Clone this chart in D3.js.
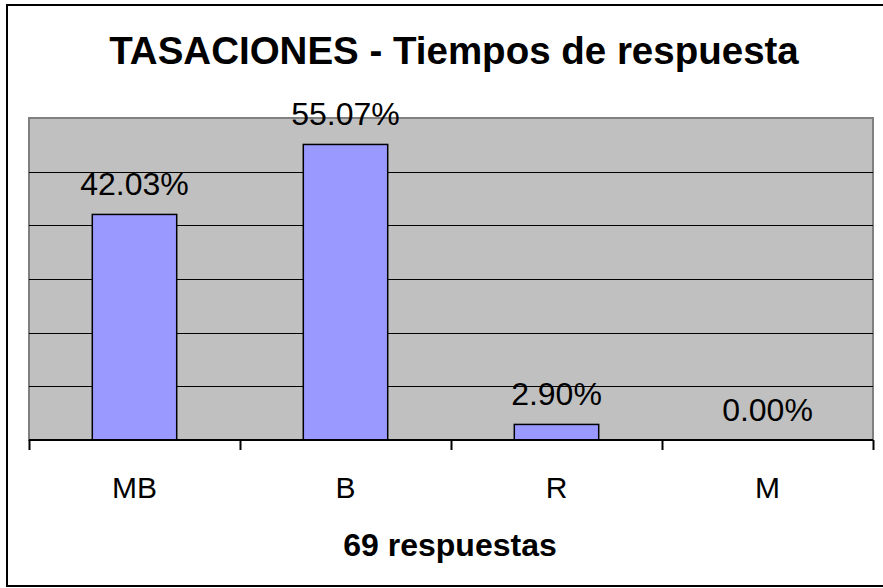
<!DOCTYPE html>
<html>
<meta charset="utf-8">
<head>
<style>
body {
    margin: 0;
    background: #fff;
    font-family: Arial, "Liberation Sans", sans-serif;
}
.grid line {
    stroke: #000;
    stroke-width: 1;
    shape-rendering: crispEdges;
}
</style>
<script src="https://d3js.org/d3.v7.min.js"></script>
</head>
<body>
<script type="text/javascript">
    // chart data
    var categories = ['MB', 'B', 'R', 'M'];
    var percents = [42.03, 55.07, 2.90, 0.00];
    var yTicks = [0, 10, 20, 30, 40, 50, 60];
    var chartTitle = 'TASACIONES - Tiempos de respuesta';
    var xTitle = '69 respuestas';

    var W = 883, H = 588;
    var plot = {left: 29, right: 873, top: 118, bottom: 440};

    var svg = d3.select('body').append('svg')
        .attr('width', W)
        .attr('height', H);

    // outer frame
    svg.append('rect')
        .attr('x', 7).attr('y', 5)
        .attr('width', 900).attr('height', 581)
        .attr('fill', '#fff')
        .attr('stroke', '#000')
        .attr('stroke-width', 2);

    var x = d3.scaleBand()
        .domain(categories)
        .range([plot.left, plot.right])
        .paddingInner(0.6)
        .paddingOuter(0.3);

    var xEdges = d3.scaleLinear()
        .domain([0, categories.length])
        .range([plot.left, plot.right]);

    var y = d3.scaleLinear()
        .domain([0, 60])
        .range([plot.bottom, plot.top]);

    // plot background
    svg.append('rect')
        .attr('x', plot.left).attr('y', plot.top)
        .attr('width', plot.right - plot.left)
        .attr('height', plot.bottom - plot.top)
        .attr('fill', '#c0c0c0')
        .attr('stroke', '#808080')
        .attr('stroke-width', 2);

    // gridlines
    svg.append('g')
        .attr('class', 'grid')
        .selectAll('line')
        .data(yTicks.slice(1, -1))
        .enter().append('line')
            .attr('x1', plot.left).attr('x2', plot.right)
            .attr('y1', function(d) { return Math.round(y(d)) + 0.5; })
            .attr('y2', function(d) { return Math.round(y(d)) + 0.5; });

    // bars
    svg.selectAll('.bar')
        .data(percents)
        .enter().append('rect')
            .attr('class', 'bar')
            .attr('x', function(d, i) { return x(categories[i]); })
            .attr('width', x.bandwidth())
            .attr('y', function(d) { return y(d); })
            .attr('height', function(d) { return y(0) - y(d); })
            .attr('fill', '#9999ff')
            .attr('stroke', '#000')
            .attr('stroke-width', 1.5)
            .style('display', function(d) { return d > 0 ? null : 'none'; });

    // x axis with ticks at category edges
    var xAxis = d3.axisBottom(xEdges)
        .tickValues(d3.range(categories.length + 1))
        .tickSize(10)
        .tickFormat('');

    var gx = svg.append('g')
        .attr('transform', 'translate(0,' + plot.bottom + ')')
        .call(xAxis);
    gx.select('.domain').attr('stroke', '#000').attr('stroke-width', 2).attr('d', 'M' + plot.left + ',0H' + plot.right);
    gx.selectAll('.tick line').attr('stroke', '#000').attr('stroke-width', 2);

    // category labels
    svg.selectAll('.cat')
        .data(categories)
        .enter().append('text')
            .attr('class', 'cat')
            .attr('x', function(d) { return x(d) + x.bandwidth() / 2; })
            .attr('y', 498)
            .attr('text-anchor', 'middle')
            .style('font-size', '30px')
            .text(function(d) { return d; });

    // value labels
    svg.selectAll('.val')
        .data(percents)
        .enter().append('text')
            .attr('class', 'val')
            .attr('x', function(d, i) { return x(categories[i]) + x.bandwidth() / 2; })
            .attr('y', function(d) { return y(d) - 19; })
            .attr('text-anchor', 'middle')
            .style('font-size', '32px')
            .text(function(d) { return d.toFixed(2) + '%'; });

    // titles
    svg.append('text')
        .attr('x', 454).attr('y', 64)
        .attr('text-anchor', 'middle')
        .style('font-size', '38.5px')
        .style('font-weight', 'bold')
        .text(chartTitle);

    svg.append('text')
        .attr('x', 450).attr('y', 556)
        .attr('text-anchor', 'middle')
        .style('font-size', '32px')
        .style('font-weight', 'bold')
        .text(xTitle);
</script>
</body>
</html>
